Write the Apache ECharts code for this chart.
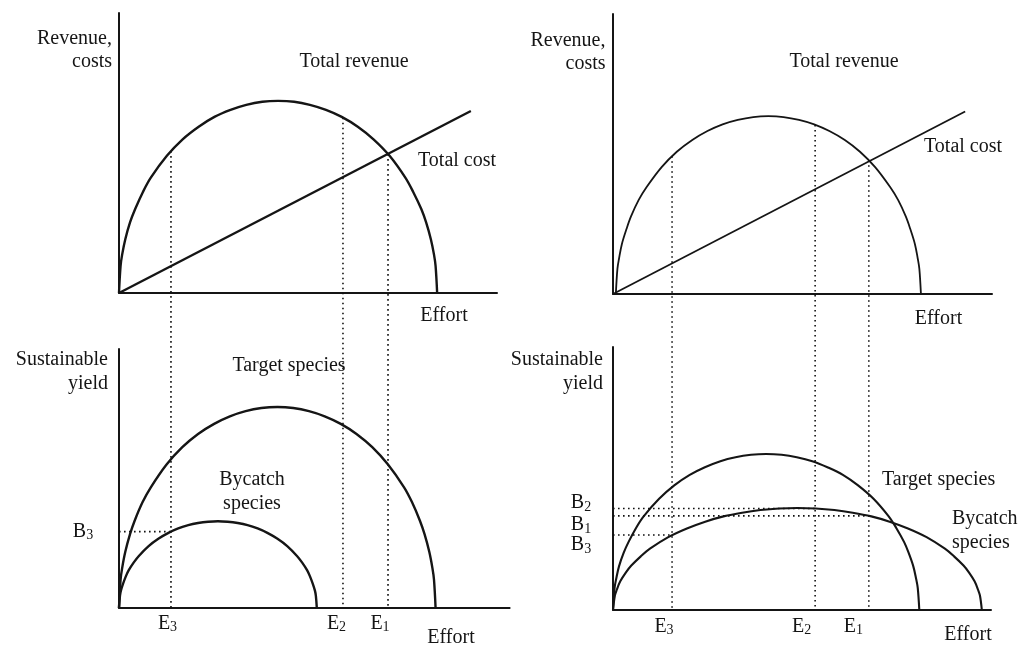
<!DOCTYPE html>
<html>
<head>
<meta charset="utf-8">
<script src="https://cdn.jsdelivr.net/npm/echarts@6/dist/echarts.min.js"></script>
<style>
  html, body { margin: 0; padding: 0; background: #ffffff; }
  #chart { width: 1021px; height: 646px; }
</style>
</head>
<body>
<div id="chart"></div>
<script>
// ---- Effort levels (E3, E2, E1) ----
const effortNames = ['3', '2', '1'];
const effortLeft = [16.5, 71.1, 85.4];
const effortRight = [18.7, 64.0, 81.0];

// Total revenue at each effort level (where the dotted guides start)
const revenueAtEffortLeft = [50.7, 62.6, 49.6];
const revenueAtEffortRight = [49.2, 60.4, 47.8];

// ---- Left column: revenue/cost and sustainable yield ----
const revenueLeft = [[0,0],[0.5,9.7],[1.0,13.7],[2.0,19.2],[3.5,25.2],[5.1,29.9],[7.6,36.1],[10.1,41.2],[15.2,49.0],[20.2,54.9],[25.3,59.4],[30.3,62.9],[35.4,65.4],[40.4,67.2],[45.5,68.3],[50.5,68.6],[55.6,68.3],[60.6,67.2],[65.7,65.4],[70.7,62.9],[75.8,59.4],[80.8,54.9],[85.9,49.0],[90.9,41.2],[93.4,36.1],[96.0,29.9],[97.5,25.2],[99.0,19.2],[100.0,13.7],[100.5,9.7],[101,0]];
const costLeft = [[0,0],[111.7,65.0]];
const targetLeft = [[0,0],[0.5,10.9],[1.0,15.4],[2.0,21.7],[3.5,28.5],[5.0,33.8],[7.5,40.9],[10.1,46.6],[15.1,55.4],[20.1,62.1],[25.1,67.2],[30.2,71.1],[35.2,74.0],[40.2,76.0],[45.2,77.2],[50.3,77.6],[55.3,77.2],[60.3,76.0],[65.3,74.0],[70.4,71.1],[75.4,67.2],[80.4,62.1],[85.4,55.4],[90.5,46.6],[93.0,40.9],[95.5,33.8],[97.0,28.5],[98.5,21.7],[99.5,15.4],[100.0,10.9],[100.5,0]];
const bycatchLeft = [[0,0],[0.3,4.7],[0.6,6.7],[1.3,9.4],[2.2,12.3],[3.1,14.6],[4.7,17.6],[6.3,20.1],[9.4,23.9],[12.6,26.8],[15.7,29.0],[18.8,30.7],[22.0,32.0],[25.1,32.8],[28.3,33.3],[31.4,33.5],[34.5,33.3],[37.7,32.8],[40.8,32.0],[44.0,30.7],[47.1,29.0],[50.2,26.8],[53.4,23.9],[56.5,20.1],[58.1,17.6],[59.7,14.6],[60.6,12.3],[61.5,9.4],[62.2,6.7],[62.5,4.7],[62.8,0]];
// Bycatch yield levels: B3 at E3
const bycatchLevelNamesLeft = ['3'];
const bycatchLevelsLeft = [29.5];
const bycatchLevelEffortLeft = [16.5];

// ---- Right column ----
const revenueRight = [[0.9,0],[1.4,9.0],[1.9,12.6],[2.8,17.8],[4.3,23.3],[5.7,27.7],[8.1,33.5],[10.6,38.1],[15.4,45.3],[20.2,50.8],[25.1,55.0],[29.9,58.2],[34.7,60.6],[39.5,62.2],[44.4,63.2],[49.2,63.5],[54.0,63.2],[58.9,62.2],[63.7,60.6],[68.5,58.2],[73.4,55.0],[78.2,50.8],[83.0,45.3],[87.8,38.1],[90.3,33.5],[92.7,27.7],[94.1,23.3],[95.6,17.8],[96.5,12.6],[97.0,9.0],[97.5,0]];
const costRight = [[0,0],[111.5,65.2]];
const targetRight = [[0,0],[0.5,8.4],[1.0,11.8],[1.9,16.6],[3.4,21.8],[4.9,25.8],[7.3,31.2],[9.7,35.6],[14.6,42.3],[19.4,47.4],[24.3,51.4],[29.1,54.3],[34.0,56.6],[38.8,58.1],[43.7,59.0],[48.5,59.3],[53.4,59.0],[58.2,58.1],[63.1,56.6],[67.9,54.3],[72.8,51.4],[77.6,47.4],[82.5,42.3],[87.3,35.6],[89.7,31.2],[92.2,25.8],[93.6,21.8],[95.1,16.6],[96.0,11.8],[96.5,8.4],[97,0]];
const bycatchRight = [[0,0],[0.6,5.5],[1.2,7.7],[2.3,10.9],[4.1,14.3],[5.8,16.9],[8.8,20.4],[11.7,23.3],[17.5,27.7],[23.4,31.0],[29.2,33.6],[35.0,35.6],[40.9,37.0],[46.7,38.0],[52.6,38.6],[58.4,38.8],[64.2,38.6],[70.1,38.0],[75.9,37.0],[81.8,35.6],[87.6,33.6],[93.4,31.0],[99.3,27.7],[105.1,23.3],[108.0,20.4],[111.0,16.9],[112.7,14.3],[114.5,10.9],[115.6,7.7],[116.2,5.5],[116.8,0]];
// Bycatch yield levels: B2 at E2, B1 at E1, B3 at E3
const bycatchLevelNamesRight = ['2', '1', '3'];
const bycatchLevelsRight = [38.6, 35.8, 28.5];
const bycatchLevelEffortRight = [64.0, 81.0, 18.7];

// ---- Layout ----
const FONT = '"Liberation Serif", "Times New Roman", serif';
const INK = '#151515';
const GRIDS = [
  { left: 119, top: 13,  width: 378,   height: 280 },  // top-left
  { left: 119, top: 349, width: 390.6, height: 259 },  // bottom-left
  { left: 613, top: 14,  width: 379,   height: 280 },  // top-right
  { left: 613, top: 347, width: 378,   height: 263 }   // bottom-right
];
const X_MAX = [120, 124, 120, 119.7];

function axis(gridIndex, max) {
  return {
    type: 'value', gridIndex: gridIndex, min: 0, max: max,
    axisLine: { show: true, onZero: false, lineStyle: { color: INK, width: 2 } },
    axisTick: { show: false }, axisLabel: { show: false }, splitLine: { show: false }
  };
}

function curve(grid, data, width) {
  return {
    type: 'line', xAxisIndex: grid, yAxisIndex: grid, data: data,
    smooth: 0.35, showSymbol: false, symbol: 'none', silent: true,
    lineStyle: { color: INK, width: width }
  };
}

function dotted(grid, data) {
  return {
    type: 'line', xAxisIndex: grid, yAxisIndex: grid, data: data,
    showSymbol: false, symbol: 'none', silent: true, clip: false,
    lineStyle: { color: '#111111', width: 1.6, type: [1.6, 3.4] }
  };
}

// how far (in top-panel units) below the top axis a guide must run to reach the lower axis
function reachBelow(topIdx, bottomIdx) {
  const t = GRIDS[topIdx], b = GRIDS[bottomIdx];
  const gap = (b.top + b.height) - (t.top + t.height);
  return -gap / (t.height / 100);
}

const series = [
  curve(0, revenueLeft, 2.4),
  curve(0, costLeft, 2.4),
  curve(1, targetLeft, 2.4),
  curve(1, bycatchLeft, 2.4),
  curve(2, revenueRight, 1.8),
  curve(2, costRight, 1.8),
  curve(3, targetRight, 2.1),
  curve(3, bycatchRight, 2.1)
];

const lowL = reachBelow(0, 1), lowR = reachBelow(2, 3);
effortLeft.forEach((e, i) => series.push(dotted(0, [[e, revenueAtEffortLeft[i]], [e, lowL]])));
effortRight.forEach((e, i) => series.push(dotted(2, [[e, revenueAtEffortRight[i]], [e, lowR]])));
bycatchLevelsLeft.forEach((b, i) => series.push(dotted(1, [[0, b], [bycatchLevelEffortLeft[i], b]])));
bycatchLevelsRight.forEach((b, i) => series.push(dotted(3, [[0, b], [bycatchLevelEffortRight[i], b]])));

// ---- Text ----
const rich = {
  m: { fontSize: 20, fontFamily: FONT, fill: INK, lineHeight: 22, verticalAlign: 'middle' },
  s: { fontSize: 14, fontFamily: FONT, fill: INK, lineHeight: 12, verticalAlign: 'bottom' }
};
function txt(x, y, text, align, lh) {
  return {
    type: 'text', x: x, y: y, silent: true,
    style: { text: text, fill: INK, fontSize: 20, fontFamily: FONT,
             align: align || 'center', verticalAlign: 'middle', lineHeight: lh || 23 }
  };
}
function subTxt(x, y, letter, sub) {
  return {
    type: 'text', x: x, y: y, silent: true,
    style: { text: '{m|' + letter + '}{s|' + sub + '}', rich: rich,
             align: 'center', verticalAlign: 'middle', fill: INK }
  };
}

const eLabelXLeft = [167.5, 336.5, 380];
const eLabelXRight = [664, 801.7, 853.3];
const bLabelYRight = [503, 525, 545];

const graphic = [
  txt(112, 50, 'Revenue,\ncosts', 'right', 23),
  txt(354, 61.5, 'Total revenue'),
  txt(418, 160.5, 'Total cost', 'left'),
  txt(444, 315.5, 'Effort'),
  txt(605.5, 52, 'Revenue,\ncosts', 'right', 23),
  txt(844, 61.5, 'Total revenue'),
  txt(924, 146.5, 'Total cost', 'left'),
  txt(938.5, 318.5, 'Effort'),
  txt(108, 371.5, 'Sustainable\nyield', 'right', 24),
  txt(289, 365.5, 'Target species'),
  txt(252, 491.5, 'Bycatch\nspecies', 'center', 24),
  txt(451, 638, 'Effort'),
  txt(603, 371.5, 'Sustainable\nyield', 'right', 24),
  txt(882, 479.5, 'Target species', 'left'),
  txt(952, 531, 'Bycatch\nspecies', 'left', 24),
  txt(968, 635, 'Effort')
];
effortNames.forEach((n, i) => {
  graphic.push(subTxt(eLabelXLeft[i], 623.5, 'E', n));
  graphic.push(subTxt(eLabelXRight[i], 626.5, 'E', n));
});
bycatchLevelNamesLeft.forEach(n => graphic.push(subTxt(83, 531.5, 'B', n)));
bycatchLevelNamesRight.forEach((n, i) => graphic.push(subTxt(581, bLabelYRight[i], 'B', n)));

const chart = echarts.init(document.getElementById('chart'), null, { renderer: 'canvas' });
chart.setOption({
  backgroundColor: '#ffffff',
  animation: false,
  grid: GRIDS,
  xAxis: GRIDS.map((g, i) => axis(i, X_MAX[i])),
  yAxis: GRIDS.map((g, i) => axis(i, 100)),
  series: series,
  graphic: graphic
});
</script>
</body>
</html>
